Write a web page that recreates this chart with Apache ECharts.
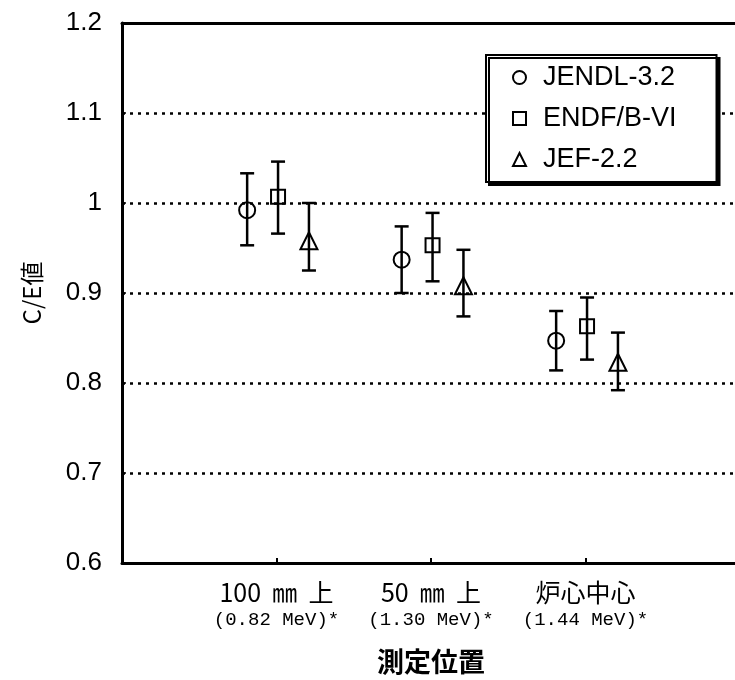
<!DOCTYPE html>
<html><head><meta charset="utf-8">
<script src="https://cdn.jsdelivr.net/npm/echarts@6/dist/echarts.min.js"></script>
<style>html,body{margin:0;padding:0;background:#fff}#c{width:735px;height:680px}</style>
</head><body><div id="c"></div>
<script>
// ---- data ----
const categories = ['100  ㎜  上', '50  ㎜  上', '炉心中心'];
const energies = ['(0.82 MeV)*', '(1.30 MeV)*', '(1.44 MeV)*'];
const yTicks = [0.6, 0.7, 0.8, 0.9, 1.0, 1.1, 1.2];
const seriesNames = ['JENDL-3.2', 'ENDF/B-VI', 'JEF-2.2'];
const jendlVal = [0.992, 0.937, 0.847];
const jendlHigh = [1.033, 0.974, 0.880];
const jendlLow = [0.953, 0.900, 0.814];
const endfVal = [1.007, 0.953, 0.863];
const endfHigh = [1.046, 0.989, 0.895];
const endfLow = [0.966, 0.913, 0.826];
const jefVal = [0.958, 0.908, 0.823];
const jefHigh = [1.000, 0.948, 0.856];
const jefLow = [0.925, 0.874, 0.792];

// ---- layout ----
const offsets = [-0.19, 0.01, 0.21];
const symbols = ['circle', 'rect', 'triangle'];
const symSizes = [16, 14, 17];
const vals = [jendlVal, endfVal, jefVal];
const highs = [jendlHigh, endfHigh, jefHigh];
const lows = [jendlLow, endfLow, jefLow];
const FONT = 'Liberation Sans, Arial, sans-serif';
const CJK = 'Noto Sans CJK JP, sans-serif';

const series = [];
seriesNames.forEach((name, s) => {
  series.push({
    type: 'custom',
    name: name + '_err',
    data: vals[s].map((v, i) => [i + 1 + offsets[s], lows[s][i], highs[s][i]]),
    renderItem: function (params, api) {
      const x = api.value(0);
      const lo = api.coord([x, api.value(1)]);
      const hi = api.coord([x, api.value(2)]);
      const w = 7;
      const st = { stroke: '#000', lineWidth: 2.5 };
      return {
        type: 'group',
        children: [
          { type: 'line', shape: { x1: lo[0], y1: lo[1], x2: hi[0], y2: hi[1] }, style: st },
          { type: 'line', shape: { x1: lo[0] - w, y1: lo[1], x2: lo[0] + w, y2: lo[1] }, style: st },
          { type: 'line', shape: { x1: hi[0] - w, y1: hi[1], x2: hi[0] + w, y2: hi[1] }, style: st }
        ]
      };
    },
    z: 2, silent: true
  });
  series.push({
    type: 'scatter',
    name: name,
    symbol: symbols[s],
    symbolSize: symSizes[s],
    data: vals[s].map((v, i) => [i + 1 + offsets[s], v]),
    itemStyle: { color: 'rgba(255,255,255,0)', borderColor: '#000', borderWidth: 2, opacity: 1 },
    z: 3
  });
});

const chart = echarts.init(document.getElementById('c'), null, { renderer: 'canvas' });
chart.setOption({
  animation: false,
  backgroundColor: '#fff',
  grid: { left: 122, width: 618, top: 23, bottom: 117, show: false, outerBoundsMode: 'none', containLabel: false },
  legend: {
    orient: 'vertical', left: 486, top: 55,
    data: seriesNames,
    itemWidth: 13, itemHeight: 13, itemGap: 14,
    padding: [9, 40, 9, 26],
    backgroundColor: '#fff', borderColor: '#000', borderWidth: 2,
    shadowColor: '#000', shadowOffsetX: 3, shadowOffsetY: 3, shadowBlur: 0,
    textStyle: { fontFamily: FONT, fontSize: 27, color: '#000', padding: [0, 0, 0, 12] }
  },
  xAxis: [{
    type: 'value', min: 0, max: 4, interval: 1,
    name: '測定位置', nameLocation: 'middle', nameGap: 85,
    nameTextStyle: { fontFamily: CJK, fontSize: 27, fontWeight: 'bold', color: '#000' },
    axisLine: { lineStyle: { color: '#000', width: 3 } },
    axisTick: { inside: true, length: 5, lineStyle: { color: '#000', width: 2 } },
    splitLine: { show: false },
    axisLabel: {
      margin: 15, color: '#000',
      formatter: function (v) {
        const i = Math.round(v) - 1;
        if (i < 0 || i >= categories.length) return '';
        return '{a|' + categories[i] + '}\n{b|' + energies[i] + '}';
      },
      rich: {
        a: { fontFamily: CJK, fontSize: 25, lineHeight: 28, color: '#000' },
        b: { fontFamily: 'Liberation Mono, DejaVu Sans Mono, monospace', fontSize: 19, lineHeight: 28, color: '#000' }
      }
    }
  }, {
    type: 'value', min: 0, max: 4, position: 'top',
    axisLine: { onZero: false, lineStyle: { color: '#000', width: 3 } },
    axisTick: { show: false }, axisLabel: { show: false }, splitLine: { show: false }
  }],
  yAxis: {
    type: 'value', min: yTicks[0], max: yTicks[yTicks.length - 1], interval: 0.1,
    name: 'C/E値', nameLocation: 'middle', nameGap: 78, nameRotate: 90,
    nameTextStyle: { fontFamily: CJK, fontSize: 24, color: '#000' },
    axisLine: { lineStyle: { color: '#000', width: 3 } },
    axisTick: { inside: true, length: 4, lineStyle: { color: '#000', width: 1.5 } },
    axisLabel: { margin: 20, color: '#000', fontFamily: FONT, fontSize: 26 },
    splitLine: { show: true, lineStyle: { color: '#000', width: 2.5, type: [3, 5] } }
  },
  series: series
});
</script></body></html>
